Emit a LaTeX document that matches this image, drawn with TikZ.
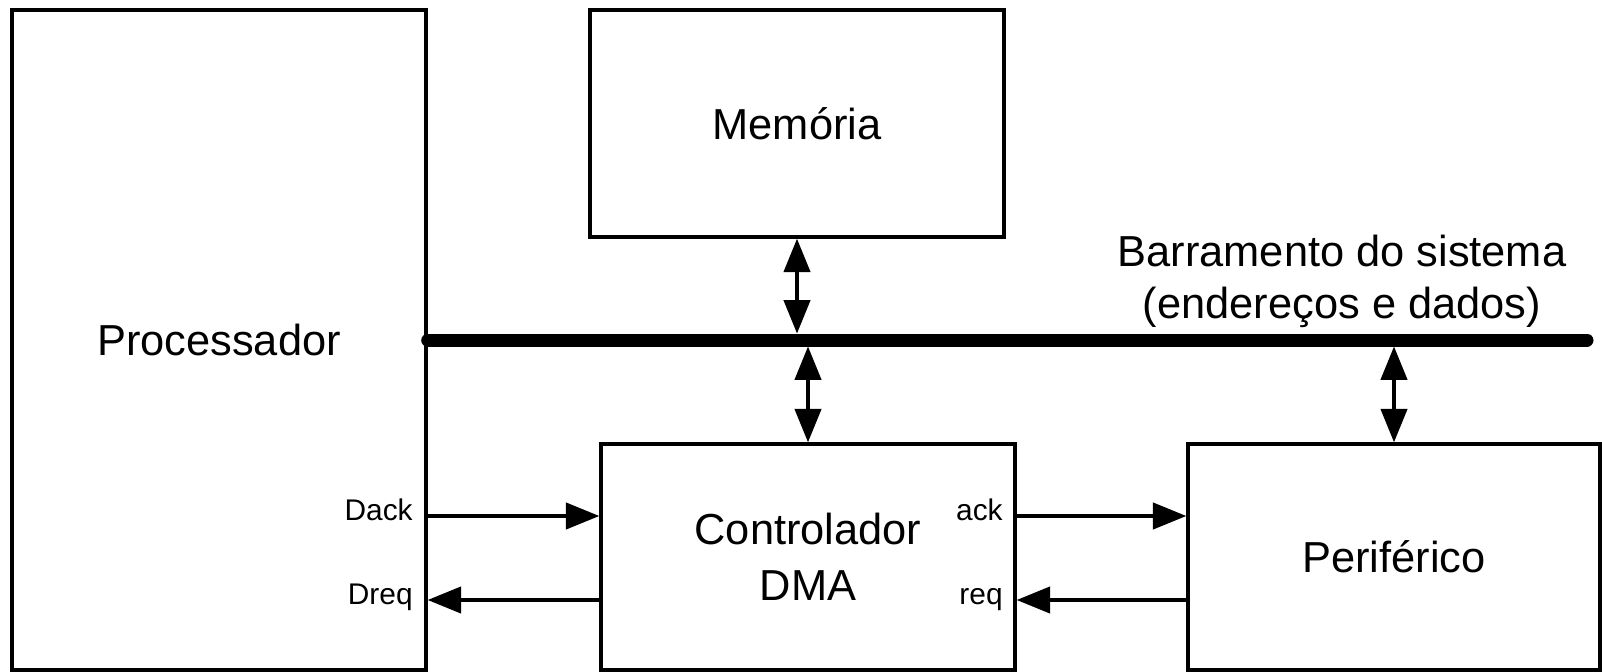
\documentclass[tikz,border=0pt]{standalone}
\usepackage{fontspec}
\setmainfont{Liberation Sans}
\usetikzlibrary{arrows.meta}

\begin{document}
\begin{tikzpicture}[x=0.02cm,y=-0.02cm,
    blk/.style={draw,line width=2pt,minimum width=8.28cm,inner sep=0pt,align=center,
      font=\fontsize{24.7}{32}\selectfont},
    sig/.style={line width=1.8pt,-{Triangle[length=19pt,width=15pt]}},
    bisig/.style={line width=1.8pt,{Triangle[length=19pt,width=15pt]}-{Triangle[length=19pt,width=15pt]}},
    siglbl/.style={inner sep=0pt,anchor=east,text height=0.72em,text depth=0.21em,
      font=\fontsize{17}{20}\selectfont}]
  \useasboundingbox (0,0) rectangle (1602,672);
  % blocks
  \node[blk,minimum height=13.2cm] (proc) at (219,340) {Processador};
  \node[blk,minimum height=4.54cm] (mem) at (797,123.5) {Memória};
  \node[blk,minimum height=4.52cm] (dma) at (808,557) {Controlador\\DMA};
  \node[blk,minimum height=4.52cm,minimum width=8.24cm] (per) at (1394,557) {Periférico};
  % system bus
  \coordinate (busR) at (1587,340);
  \draw[bisig,shorten >=3.7pt] (mem.south) -- (mem.south |- proc.east);
  \draw[bisig,shorten <=3.7pt] (dma.north |- proc.east) -- (dma.north);
  \draw[bisig,shorten <=3.7pt] (per.north |- proc.east) -- (per.north);
  \draw[line width=7.4pt,line cap=round] (proc.east) -- (busR);
  \node[font=\fontsize{24.7}{29.6}\selectfont,align=center] (buslbl) at (1342,281)
    {Barramento do sistema\\(endereços e dados)};
  % handshake lines
  \node[siglbl] (dack) at (413,516) {Dack};
  \node[siglbl] (dreq) at (413,600) {Dreq};
  \node[siglbl] (ack) at (1003,516) {ack};
  \node[siglbl] (req) at (1003,600) {req};
  \draw[sig] (proc.east |- dack) -- (dma.west |- dack);
  \draw[sig] (dma.west |- dreq) -- (proc.east |- dreq);
  \draw[sig] (dma.east |- ack) -- (per.west |- ack);
  \draw[sig] (per.west |- req) -- (dma.east |- req);
\end{tikzpicture}
\end{document}
